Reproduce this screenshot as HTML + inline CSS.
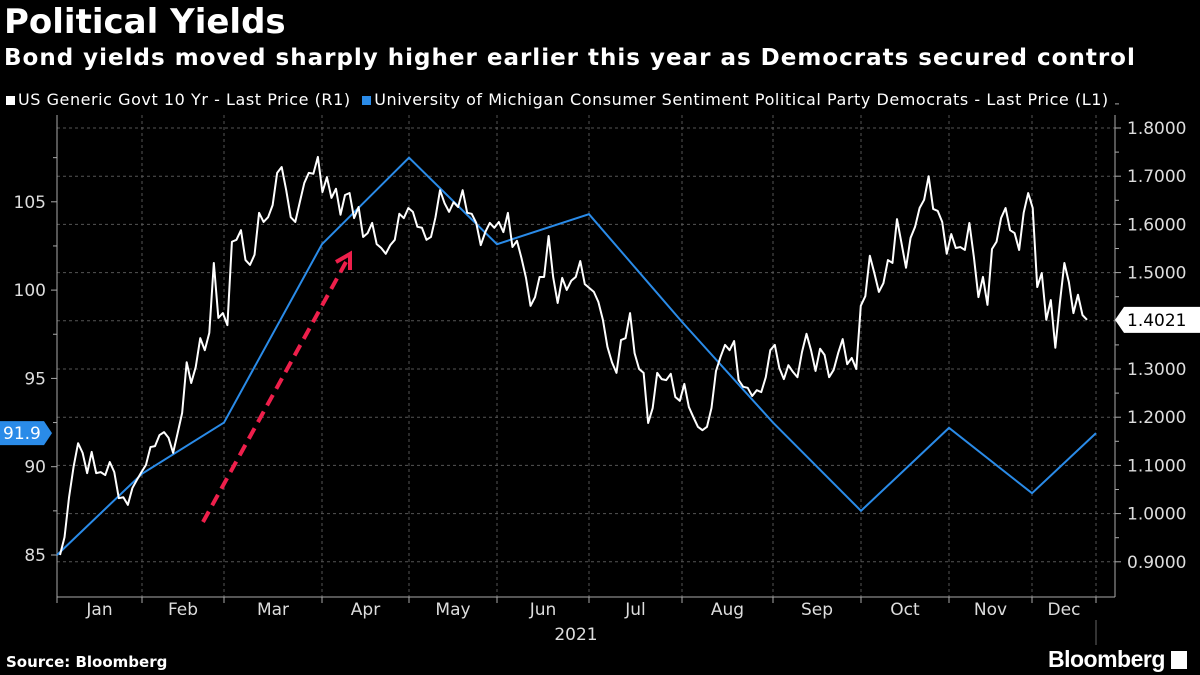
<!DOCTYPE html>
<html><head><meta charset="utf-8"><style>
html,body{margin:0;padding:0;background:#000;width:1200px;height:675px;overflow:hidden;font-family:"DejaVu Sans","Liberation Sans",sans-serif;color:#fff}
.t{position:absolute;white-space:nowrap}
</style></head><body>
<div class="t" style="left:4px;top:2px;font-size:34px;font-weight:bold">Political Yields</div>
<div class="t" style="left:4px;top:45px;font-size:23px;font-weight:bold;letter-spacing:1.0px">Bond yields moved sharply higher earlier this year as Democrats secured control</div>
<div class="t" style="left:6px;top:90px;font-size:16px;letter-spacing:0.55px">
<span><span style="display:inline-block;width:9px;height:9px;background:#fff;margin-right:3px"></span>US Generic Govt 10 Yr - Last Price (R1)</span>
<span style="margin-left:6px"><span style="display:inline-block;width:9px;height:9px;background:#2a8be8;margin-right:3px"></span>University of Michigan Consumer Sentiment Political Party Democrats - Last Price (L1)</span>
</div>
<svg id="chart" width="1200" height="675" style="position:absolute;left:0;top:0" font-family="DejaVu Sans, sans-serif"></svg>
<div class="t" style="left:6px;top:653px;font-size:15px;font-weight:bold">Source: Bloomberg</div>
<div class="t" style="left:1048px;top:646px;font-family:'Liberation Sans',sans-serif;font-size:23px;font-weight:bold;letter-spacing:-0.5px">Bloomberg <span style="display:inline-block;width:16px;height:18px;background:#fff;vertical-align:-2px"></span></div>
<script>
const months=["Jan","Feb","Mar","Apr","May","Jun","Jul","Aug","Sep","Oct","Nov","Dec"];
const sentiment=[85,89.6,92.5,102.6,107.5,102.6,104.3,98.2,92.5,87.5,92.2,88.5,91.9];
const leftTicks=[85,90,95,100,105];
const rightTicks=[0.9,1.0,1.1,1.2,1.3,1.4,1.5,1.6,1.7,1.8];
const yields=[0.914,0.951,1.034,1.097,1.146,1.126,1.084,1.128,1.084,1.086,1.080,1.107,1.086,1.032,1.034,1.018,1.053,1.070,1.086,1.101,1.138,1.140,1.163,1.169,1.157,1.126,1.167,1.209,1.314,1.271,1.304,1.364,1.339,1.375,1.520,1.406,1.416,1.391,1.564,1.568,1.588,1.526,1.516,1.537,1.624,1.605,1.615,1.640,1.707,1.719,1.671,1.615,1.605,1.646,1.686,1.707,1.705,1.740,1.667,1.698,1.655,1.674,1.620,1.661,1.665,1.613,1.636,1.574,1.582,1.603,1.559,1.551,1.539,1.557,1.568,1.622,1.613,1.634,1.626,1.595,1.593,1.568,1.574,1.615,1.671,1.644,1.626,
1.646,1.636,1.671,1.624,1.622,1.603,1.557,1.584,1.603,1.593,1.605,1.584,1.624,1.553,1.566,1.530,1.489,1.431,1.449,1.491,1.491,1.576,1.491,1.437,1.489,1.464,1.483,1.491,1.524,1.476,1.468,1.460,1.439,1.402,1.346,1.314,1.292,1.360,1.364,1.416,1.333,1.300,1.292,1.188,1.219,1.292,1.279,1.277,1.290,1.242,1.234,1.269,1.221,1.200,1.180,1.173,1.180,1.219,1.296,1.325,1.350,1.339,1.358,1.277,1.263,1.261,1.244,1.256,1.252,1.283,1.339,1.350,1.302,1.279,1.308,1.294,1.283,1.335,1.373,1.339,1.296,1.342,1.329,1.283,1.298,1.333,1.362,1.310,1.323,1.300,
1.431,1.451,1.535,1.499,1.460,1.478,1.526,1.520,1.611,1.561,1.510,1.572,1.595,1.634,1.651,1.700,1.632,1.628,1.605,1.539,1.580,1.551,1.553,1.547,1.603,1.532,1.449,1.491,1.433,1.549,1.564,1.613,1.634,1.588,1.582,1.547,1.624,1.665,1.634,1.470,1.499,1.402,1.443,1.344,1.437,1.520,1.480,1.416,1.454,1.412,1.402];
const monthX=[57,142,224,322,409,497,589,682,773,861,949,1032,1096];
const NS="http://www.w3.org/2000/svg";
const svg=document.getElementById('chart');
function mk(tag,attrs,parent){const e=document.createElementNS(NS,tag);for(const k in attrs)e.setAttribute(k,attrs[k]);(parent||svg).appendChild(e);return e;}
const yL=v=>555-(v-85)*17.66;
const yR=v=>128+(1.8-v)*482;
const xStart=60,xEnd=1087;
const xY=i=>xStart+i*(xEnd-xStart)/(yields.length-1);
rightTicks.forEach(v=>{const g=mk('line',{x1:57,x2:1115,y1:yR(v),y2:yR(v),stroke:'#555','stroke-dasharray':'3,3','stroke-width':1});

});
monthX.slice(1).forEach(x=>{const g=mk('line',{x1:x,x2:x,y1:115,y2:597,stroke:'#555','stroke-dasharray':'3,3','stroke-width':1});

});
const ax=mk('line',{x1:57,x2:57,y1:115,y2:597,stroke:'#aaa'});


const ax2=mk('line',{x1:1115,x2:1115,y1:115,y2:597,stroke:'#aaa'});


const ax3=mk('line',{x1:57,x2:1115,y1:597,y2:597,stroke:'#aaa'});


monthX.forEach(x=>{const t=mk('line',{x1:x,x2:x,y1:597,y2:603,stroke:'#aaa'});

});
mk('line',{x1:1096,x2:1096,y1:620,y2:645,stroke:'#666'});
months.forEach((m,i)=>{const t=mk('text',{x:(monthX[i]+monthX[i+1])/2,y:615,fill:'#ddd','font-size':17,'text-anchor':'middle'});t.textContent=m;

});
const yr=mk('text',{x:576,y:640,fill:'#ddd','font-size':17,'text-anchor':'middle'});yr.textContent='2021';


leftTicks.forEach(v=>{const y=yL(v);mk('line',{x1:51,x2:57,y1:y,y2:y,stroke:'#aaa'});
const t=mk('text',{x:46,y:y+6,fill:'#ddd','font-size':17,'text-anchor':'end'});t.textContent=v;


mk('line',{x1:53,x2:57,y1:yL(v+2.5),y2:yL(v+2.5),stroke:'#aaa'});});
rightTicks.forEach(v=>{const y=yR(v);mk('line',{x1:1115,x2:1121,y1:y,y2:y,stroke:'#aaa'});
mk('line',{x1:1115,x2:1119,y1:yR(v+0.05),y2:yR(v+0.05),stroke:'#aaa'});
const t=mk('text',{x:1127,y:y+6,fill:'#ddd','font-size':17});t.textContent=v.toFixed(4);

});
const sp=mk('polyline',{points:sentiment.map((v,i)=>monthX[i]+','+yL(v)).join(' '),fill:'none',stroke:'#2a8be8','stroke-width':2});


const yp=mk('polyline',{points:yields.map((v,i)=>xY(i)+','+yR(v)).join(' '),fill:'none',stroke:'#fff','stroke-width':2,'stroke-linejoin':'round'});


const ar=mk('line',{x1:203,y1:522,x2:346,y2:262,stroke:'#ee1f4b','stroke-width':4,'stroke-dasharray':'12,7'});


mk('polyline',{points:'336,262 350,254 350,270',fill:'none',stroke:'#ee1f4b','stroke-width':4});
const ls=sentiment[sentiment.length-1],by=yL(ls);
const b1=mk('path',{d:`M0 ${by-12} H44 L52 ${by} L44 ${by+12} H0 Z`,fill:'#2a8be8'});


const bt=mk('text',{x:3,y:by+6,fill:'#fff','font-size':17});bt.textContent=ls.toFixed(1);
const ly=yields[yields.length-1],ry=yR(ly);
const b2=mk('path',{d:`M1115 ${ry} L1124 ${ry-13} H1200 V${ry+13} H1124 Z`,fill:'#fff'});


const rt=mk('text',{x:1127,y:ry+6,fill:'#000','font-size':17});rt.textContent='1.4021';
</script>
</body></html>
